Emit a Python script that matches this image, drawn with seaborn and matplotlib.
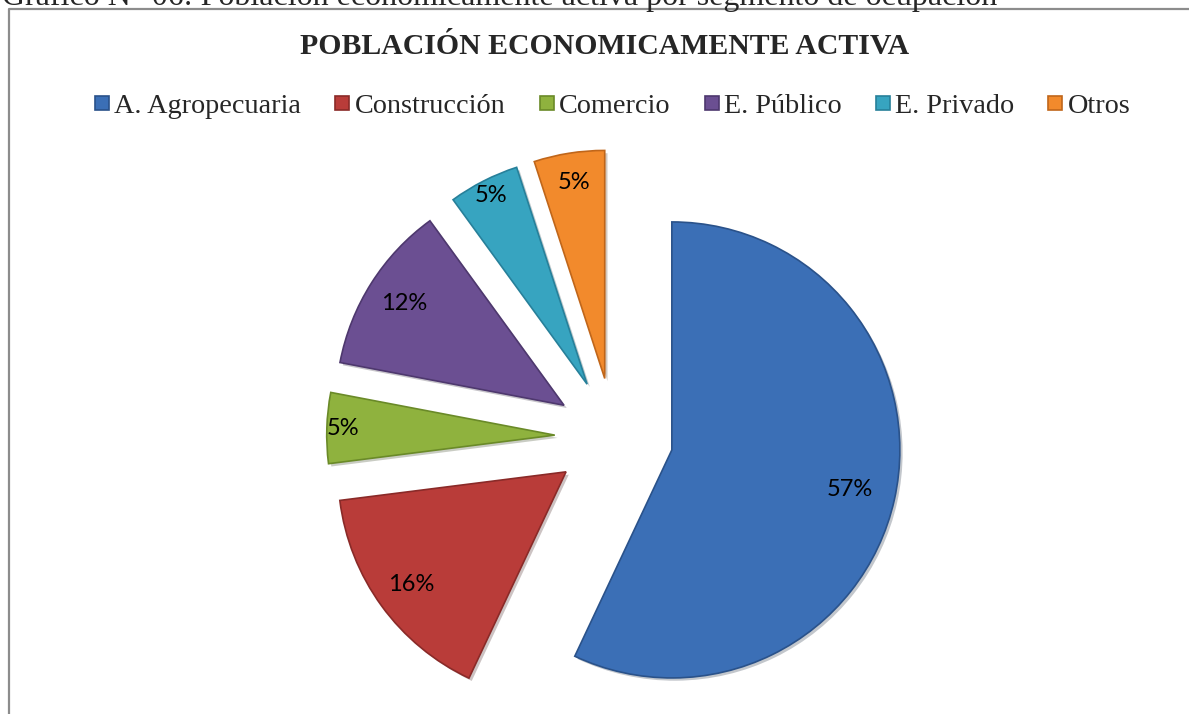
import numpy as np
import matplotlib
matplotlib.use("Agg")
import matplotlib.pyplot as plt
import matplotlib.patheffects as pe
from matplotlib.lines import Line2D
import seaborn as sns

# Data
categorias = ["A. Agropecuaria", "Construcción", "Comercio", "E. Público", "E. Privado", "Otros"]
porcentajes = [57, 16, 5, 12, 5, 5]
colores = ["#3b6fb6", "#b93c39", "#8fb23e", "#6b4f92", "#37a4c0", "#f28a2c"]
bordes = ["#2a528a", "#8a2a28", "#6a8a28", "#4e386e", "#27809a", "#c0661a"]

titulo = "POBLACIÓN ECONOMICAMENTE ACTIVA"
encabezado = "Gráfico N° 06: Población económicamente activa por segmento de ocupación"

sns.set_style("white")
plt.rcParams["font.family"] = ["Liberation Serif", "DejaVu Serif"]

W, H = 1189, 714
fig = plt.figure(figsize=(W / 100, H / 100), dpi=100)

# pie axes: center at (614, 437) px, radius 228 px
cx, cy, R = 614, 437, 228
ax = fig.add_axes([0, 0, 1, 1])
ax.axis("off")

wedges, texts, autotexts = ax.pie(
    porcentajes,
    colors=colores,
    startangle=90,
    counterclock=False,
    explode=[0.26] * len(porcentajes),
    autopct="%d%%",
    pctdistance=0.86,
    radius=1,
    wedgeprops=dict(linewidth=1.2),
    textprops=dict(fontsize=17, family="Lato", color="black"),
    frame=False,
)
ax.set_xlim(-cx / R, (W - cx) / R)
ax.set_ylim(-(H - cy) / R, cy / R)
ax.set_aspect("auto")

for w, b in zip(wedges, bordes):
    w.set_edgecolor(b)
    w.set_path_effects([pe.SimplePatchShadow(offset=(2, -2), alpha=0.25), pe.Normal()])

# small wedges: labels further out, as in the original
dist_extra = [0.80, 0.84, 0.93, 0.83, 0.93, 0.87]
for w, t, d in zip(wedges, autotexts, dist_extra):
    ang = np.deg2rad((w.theta1 + w.theta2) / 2)
    x0, y0 = w.center
    t.set_position((x0 + d * np.cos(ang), y0 + d * np.sin(ang)))

# header text (partly cut off at the top, as in the source page)
fig.text(0.0015, 1 - 5 / H, encabezado, fontsize=23, va="baseline", ha="left")

# chart frame
fig.add_artist(Line2D([9 / W, 9 / W, 1], [0, 1 - 9 / H, 1 - 9 / H],
                      transform=fig.transFigure, color="#8c8c8c", lw=1.6))

fig.text(605 / W, 1 - 47 / H, titulo, fontsize=21.4, fontweight="bold",
         ha="center", va="center")

handles = [Line2D([], [], marker="s", linestyle="", markersize=10.5,
                  markerfacecolor=c, markeredgecolor=b, markeredgewidth=1.2)
           for c, b in zip(colores, bordes)]
fig.legend(handles, categorias, loc="center", bbox_to_anchor=(610 / W, 1 - 106 / H),
           ncol=6, frameon=False, fontsize=20.3, handletextpad=0.0,
           columnspacing=1.0, handlelength=0.9)

fig.savefig("out.png", dpi=100)
